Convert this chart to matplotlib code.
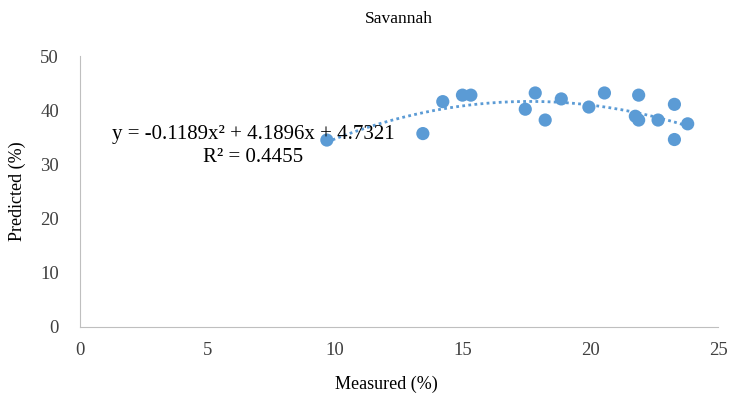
import numpy as np
import matplotlib.pyplot as plt

plt.rcParams['font.family'] = ['Liberation Serif', 'DejaVu Serif']

# measured vs predicted (%)
measured = [9.67, 13.43, 14.21, 14.98, 15.31, 17.44, 17.83, 18.22, 18.85,
            19.93, 20.54, 21.75, 21.88, 21.88, 22.64, 23.28, 23.28, 23.80]
predicted = [34.5, 35.7, 41.6, 42.8, 42.8, 40.2, 43.2, 38.2, 42.1,
             40.6, 43.2, 38.9, 42.8, 38.2, 38.2, 41.1, 34.6, 37.5]

# trendline coefficients (from the chart label)
coef = [-0.1189, 4.1896, 4.7321]
r2 = 0.4455

blue = '#5B9BD5'

fig = plt.figure(figsize=(7.33, 4.07), dpi=100)
ax = fig.add_axes([0.109, 0.197, 0.871, 0.665])

xs = np.linspace(min(measured), max(measured), 200)
ax.plot(xs, np.polyval(coef, xs), linestyle=(0, (1, 1.2)), color=blue, lw=2, zorder=2)
ax.scatter(measured, predicted, s=90, color=blue, edgecolors='none', zorder=3)

ax.set_xlim(0, 25)
ax.set_ylim(0, 50)
ax.set_xticks(range(0, 26, 5))
ax.set_yticks(range(0, 51, 10))
ax.tick_params(length=0, labelsize=13.5, colors='#404040')
ax.tick_params(axis='x', pad=11)
ax.tick_params(axis='y', pad=15)
for s in ['top', 'right']:
    ax.spines[s].set_visible(False)
for s in ['left', 'bottom']:
    ax.spines[s].set_color('#BFBFBF')

ax.set_title('Savannah', fontsize=12.5, pad=24)
ax.set_xlabel('Measured (%)', fontsize=13)
ax.xaxis.set_label_coords(0.48, -0.18)
ax.set_ylabel('Predicted (%)', fontsize=13, labelpad=10)

ax.text(6.8, 35.5, 'y = -0.1189x² + 4.1896x + 4.7321', fontsize=15,
        ha='center', va='center')
ax.text(6.8, 31.2, 'R² = %.4f' % r2, fontsize=15, ha='center', va='center')

fig.savefig('out.png', dpi=100)
